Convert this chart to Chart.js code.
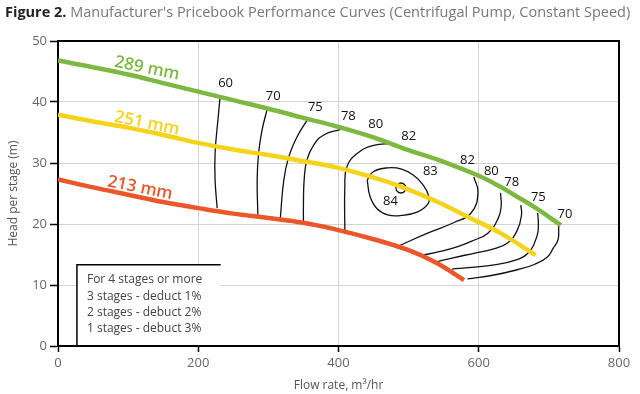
<!DOCTYPE html>
<html>
<head>
<meta charset="utf-8">
<script src="https://cdn.jsdelivr.net/npm/chart.js@4.4.0/dist/chart.umd.min.js"></script>
<style>
  html, body { margin: 0; padding: 0; background: #fff; }
</style>
</head>
<body>
<canvas id="c" width="640" height="394"></canvas>
<script>
(function () {
  "use strict";

  // impeller head curves, [flow m3/hr, head m]
  var head289 = [[0, 46.8], [50, 45.7], [100, 44.5], [150, 43.1], [200, 41.7], [250, 40.3], [300, 38.9],
    [350, 37.4], [400, 35.9], [450, 34.2], [500, 32.1], [550, 30.2], [600, 27.9], [631, 26.1],
    [650, 24.8], [679, 22.8], [717, 19.8]];
  var head251 = [[0, 37.9], [50, 36.8], [100, 35.8], [150, 34.6], [200, 33.3], [250, 32.2], [300, 31.3],
    [350, 30.3], [400, 29.2], [450, 27.6], [490, 26.1], [540, 23.7], [584, 21.2], [631, 18.5], [681, 14.9]];
  var head213 = [[0, 27.3], [50, 26], [100, 24.8], [150, 23.6], [200, 22.6], [250, 21.7], [300, 21],
    [350, 20.2], [400, 19], [450, 17.5], [500, 15.7], [540, 13.6], [579, 10.8]];

  // efficiency contours
  var eff60 = [[231, 40.6], [228, 37], [224, 31.6], [224, 27.2], [227, 22.6]];
  var eff70 = [[298, 38.7], [291, 35.4], [286, 31.6], [284, 27.2], [285, 21.5]];
  var eff75 = [[355, 37], [341, 34.3], [329, 31], [322, 27.2], [317, 20.9]];
  var eff78 = [[403, 35.5], [379, 34.6], [365, 33], [355, 30.5], [351, 27.2], [350, 23], [350, 20.1]];
  var eff80 = [[477, 33.2], [450, 32.9], [427, 31.6], [412, 29.4], [409, 26.1], [409, 19]];
  var eff82r = [[593, 27.7], [599, 25.1], [589, 21.8], [564, 20.2], [527, 18.5], [484, 16.3]];
  var eff80r = [[631, 25.1], [632, 23], [628, 21], [613, 18.5], [590, 17.2], [570, 16.3], [545, 15.5], [520, 14.9]];
  var eff78r = [[660, 23.1], [661, 21.5], [655, 19], [641, 16.9], [620, 15.9], [593, 15.2], [565, 14.5], [539, 13.8]];
  var eff75r = [[684, 21.8], [685, 20], [683, 18], [670, 15.2], [650, 14], [622, 13.3], [590, 12.9], [562, 12.6]];
  var eff70r = [[714, 19.8], [713, 17.4], [706, 16], [698, 14.6], [680, 13.4], [655, 12.5], [620, 11.6], [584, 11]];
  var eff83 = [[441, 27.2], [450, 28.6], [470, 29.2], [490, 29], [507, 28], [520, 26.5], [529, 24.5],
    [527, 23.2], [513, 22], [490, 21.4], [470, 21.5], [455, 22.5], [445, 24.5], [441, 27.2]];
  var bestPoint = [[489, 25.9]];

  var effLabels = [["60", 239, 43], ["70", 307, 41], ["75", 367, 39.2], ["78", 414, 37.6], ["80", 453, 36.4],
    ["82", 500, 34.3], ["82", 584, 30.5], ["80", 618, 28.7], ["78", 647, 26.8], ["75", 685, 24.4],
    ["70", 723, 21.6], ["83", 531, 28.6], ["84", 474, 23.7]];
  var curveLabels = [["289 mm", 127, 45.5], ["251 mm", 127, 36.5], ["213 mm", 117, 25.9]];
  var noteLines = ["For 4 stages or more", "3 stages - deduct 1%", "2 stages - debuct 2%", "1 stages - debuct 3%"];
  var noteBox = [27, 13.3, 232];

  var xTicks = [0, 200, 400, 600, 800];
  var yTicks = [0, 10, 20, 30, 40, 50];

  var GREEN = "#7db942", YELLOW = "#f5d31a", RED = "#e9572b";
  var curveColors = [GREEN, YELLOW, RED];
  var FONT = "'Open Sans', sans-serif";

  function pts(arr) {
    return arr.map(function (p) { return { x: p[0], y: p[1] }; });
  }

  function headSet(arr, color) {
    return { data: pts(arr), showLine: true, borderColor: color, borderWidth: 4.5,
      pointRadius: 0, tension: 0.4, order: 0, borderCapStyle: "butt" };
  }

  function effSet(arr) {
    return { data: pts(arr), showLine: true, borderColor: "#111", borderWidth: 1.3,
      pointRadius: 0, tension: 0.45, order: 1 };
  }

  var datasets = [
    headSet(head289, GREEN), headSet(head251, YELLOW), headSet(head213, RED),
    effSet(eff60), effSet(eff70), effSet(eff75), effSet(eff78), effSet(eff80),
    effSet(eff82r), effSet(eff80r), effSet(eff78r), effSet(eff75r), effSet(eff70r), effSet(eff83),
    { data: pts(bestPoint), showLine: false, pointRadius: 5, pointBorderWidth: 1.3,
      pointBorderColor: "#111", pointBackgroundColor: "rgba(0,0,0,0)", order: 1 }
  ];

  var overlay = {
    id: "overlay",
    beforeDatasetsDraw: function (chart) {
      var ctx = chart.ctx, a = chart.chartArea;
      var xs = chart.scales.x, ys = chart.scales.y;
      ctx.save();
      ctx.strokeStyle = "#000";
      ctx.lineWidth = 2;
      ctx.beginPath();
      ctx.moveTo(a.left, a.top);
      ctx.lineTo(a.right, a.top);
      ctx.lineTo(a.right, a.bottom);
      ctx.stroke();

      // note box
      var bx = xs.getPixelForValue(noteBox[0]);
      var by = ys.getPixelForValue(noteBox[1]);
      var br = xs.getPixelForValue(noteBox[2]);
      ctx.fillStyle = "#fff";
      ctx.fillRect(bx, by, br - bx, a.bottom - by - 1);
      ctx.lineWidth = 1.5;
      ctx.beginPath();
      ctx.moveTo(bx, a.bottom);
      ctx.lineTo(bx, by);
      ctx.lineTo(br, by);
      ctx.stroke();
      ctx.fillStyle = "#444";
      ctx.font = "12px " + FONT;
      ctx.textBaseline = "middle";
      noteLines.forEach(function (t, i) {
        ctx.fillText(t, bx + 10, by + 15 + i * 16.3);
      });
      ctx.restore();
    },
    afterDatasetsDraw: function (chart) {
      var ctx = chart.ctx;
      var xs = chart.scales.x, ys = chart.scales.y;
      ctx.save();
      ctx.textAlign = "center";
      ctx.textBaseline = "middle";
      ctx.fillStyle = "#111";
      ctx.font = "13px " + FONT;
      effLabels.forEach(function (l) {
        ctx.fillText(l[0], xs.getPixelForValue(l[1]), ys.getPixelForValue(l[2]));
      });
      ctx.font = "600 17px " + FONT;
      curveLabels.forEach(function (l, i) {
        ctx.save();
        ctx.translate(xs.getPixelForValue(l[1]), ys.getPixelForValue(l[2]));
        ctx.rotate(11.5 * Math.PI / 180);
        ctx.fillStyle = curveColors[i];
        ctx.fillText(l[0], 0, 0);
        ctx.restore();
      });
      ctx.restore();
    },
    afterDraw: function (chart) {
      var ctx = chart.ctx;
      var bold = "Figure 2. ";
      var rest = "Manufacturer's Pricebook Performance Curves (Centrifugal Pump, Constant Speed)";
      ctx.save();
      ctx.textBaseline = "middle";
      ctx.font = "bold 14px " + FONT;
      var w1 = ctx.measureText(bold).width;
      ctx.font = "14px " + FONT;
      var w2 = ctx.measureText(rest).width;
      var size = 14 * 626 / (w1 + w2);
      ctx.font = "bold " + size + "px " + FONT;
      ctx.fillStyle = "#222";
      ctx.fillText(bold, 5, 13);
      w1 = ctx.measureText(bold).width;
      ctx.font = size + "px " + FONT;
      ctx.fillStyle = "#777";
      ctx.fillText(rest, 5 + w1, 13);
      ctx.restore();
    }
  };

  new Chart(document.getElementById("c"), {
    type: "scatter",
    data: { datasets: datasets },
    plugins: [overlay],
    options: {
      responsive: false,
      animation: false,
      layout: { padding: { left: 0, right: 21, top: 41, bottom: 0 } },
      plugins: { legend: { display: false }, tooltip: { enabled: false } },
      scales: {
        x: {
          type: "linear", min: 0, max: 800,
          afterBuildTicks: function (s) { s.ticks = xTicks.map(function (v) { return { value: v }; }); },
          afterFit: function (s) { s.height = 48; },
          grid: { color: "#d4d4d4", lineWidth: 1, tickLength: 6, tickColor: "#000", tickWidth: 1.5 },
          border: { color: "#000", width: 2 },
          ticks: { color: "#666", font: { family: FONT, size: 13 }, padding: 3, maxRotation: 0 },
          title: { display: true, text: "Flow rate, m³/hr", color: "#555",
            font: { family: FONT, size: 12 }, padding: { top: 0, bottom: 1 } }
        },
        y: {
          type: "linear", min: 0, max: 50,
          afterBuildTicks: function (s) { s.ticks = yTicks.map(function (v) { return { value: v }; }); },
          afterFit: function (s) { s.width = 58; },
          grid: { color: "#d4d4d4", lineWidth: 1, tickLength: 8, tickColor: "#000", tickWidth: 1.5 },
          border: { color: "#000", width: 2 },
          ticks: { color: "#666", font: { family: FONT, size: 13 }, padding: 3 },
          title: { display: true, text: "Head per stage (m)", color: "#555",
            font: { family: FONT, size: 12 }, padding: { top: 6, bottom: 0 } }
        }
      }
    }
  });
})();
</script>
</body>
</html>
